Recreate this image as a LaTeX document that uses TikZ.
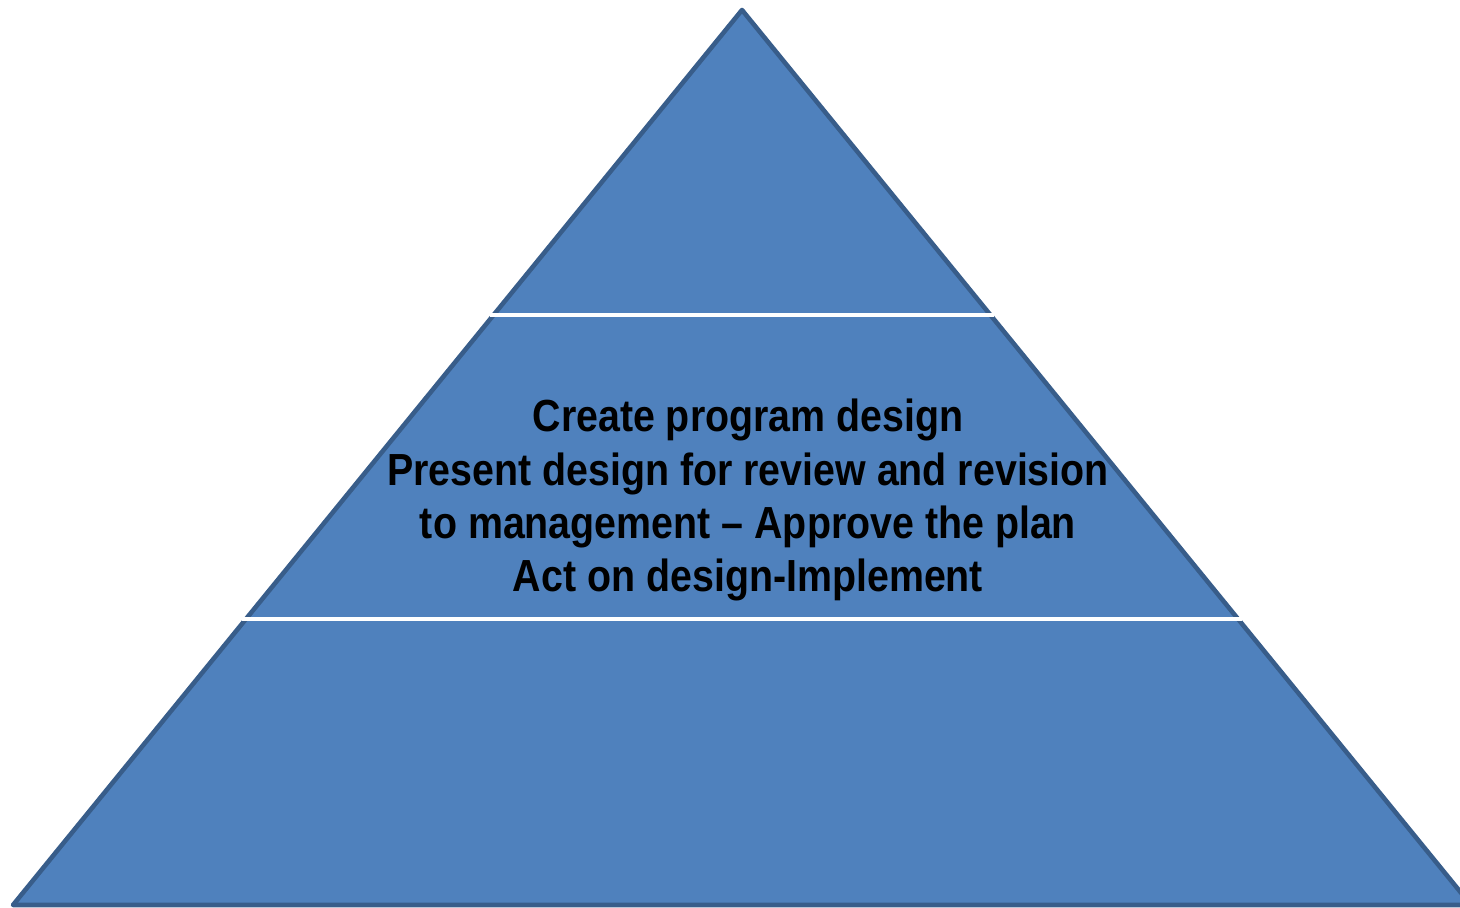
\documentclass[tikz,border=0pt]{standalone}
\usepackage{fontspec}
\setmainfont[FakeStretch=0.875]{Liberation Sans}
\usepackage{xcolor}
\usepackage{tikz}
\usetikzlibrary{positioning}
\definecolor{pyrfill}{HTML}{4F81BD}
\definecolor{pyrline}{HTML}{385D8A}
\tikzset{
	x=0.02cm, y=-0.02cm, % one unit is one pixel of the picture
	pyramid/.style={fill=pyrfill, draw=pyrline, line width=2.6pt, line join=round}, % the big triangle
	divider/.style={draw=white, line width=2.2pt}, % the white lines between the layers
	label/.style={align=center, font=\bfseries\fontsize{25.6}{30.2}\selectfont, text=black}, % the text in the middle layer
}
\begin{document}
\begin{tikzpicture}
		\useasboundingbox (0,0) rectangle (1460,908);
		% Define corners
		\coordinate (apex) at (742,10);
		\coordinate (bl) at (13,905);
		\coordinate (br) at (1471,905);
		\coordinate (l1) at (490,315);
		\coordinate (r1) at (994,315);
		\coordinate (l2) at (242,619);
		\coordinate (r2) at (1242,619);
		
		% Pyramid
		\path[pyramid] (apex) -- (br) -- (bl) -- cycle;
		\path[divider] (l1) -- (r1);
		\path[divider] (l2) -- (r2);
		
		% Text
		\node[label] (design) at (748,500) {Create program design\\Present design for review and revision\\to management -- Approve the plan\\Act on design-Implement};
		
	\end{tikzpicture}
\end{document}
